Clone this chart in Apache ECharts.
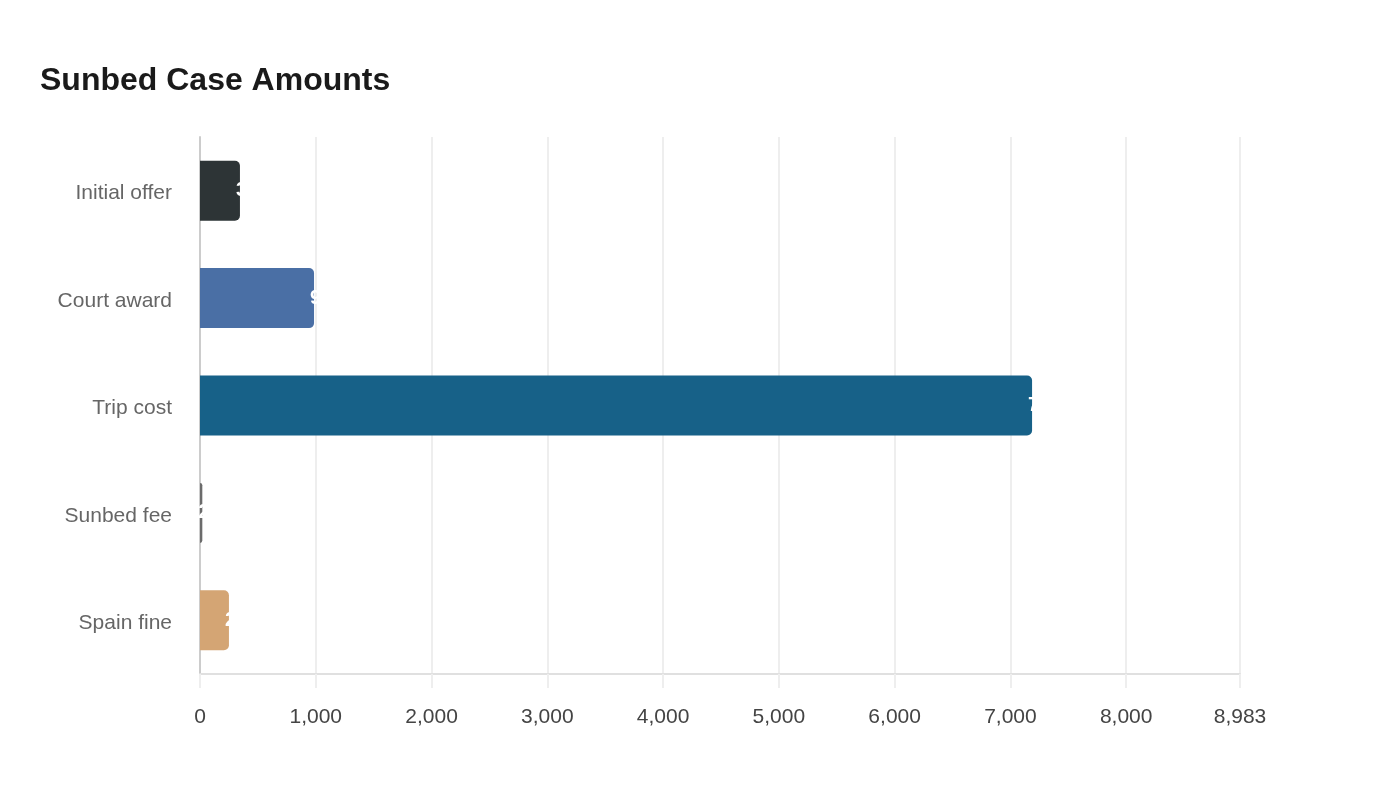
<!DOCTYPE html>
<html>
<head>
<meta charset="utf-8">
<title>Sunbed Case Amounts</title>
<script src="https://cdn.jsdelivr.net/npm/echarts@6/dist/echarts.min.js"></script>
<style>
  html, body { margin: 0; padding: 0; background: #fff; }
  #main { width: 1400px; height: 800px; }
</style>
</head>
<body>
<div id="main"></div>
<script>
// categories top to bottom
var categories = ['Initial offer', 'Court award', 'Trip cost', 'Sunbed fee', 'Spain fine'];
var amounts = [345, 985, 7187, 20, 250];
var barColors = ['#2d3436', '#4a6fa5', '#176188', '#6b6b6b', '#d4a574'];
var axisMax = 8983;

var myChart = echarts.init(document.getElementById('main'));

var option = {
    backgroundColor: '#ffffff',
    title: {
        text: 'Sunbed Case Amounts',
        left: 35,
        top: 60,
        textStyle: {
            fontFamily: 'Liberation Sans, Arial, sans-serif',
            fontSize: 32,
            fontWeight: 'bold',
            color: '#1a1a1a'
        }
    },
    grid: {
        left: 200,
        right: 160,
        top: 137,
        bottom: 126,
        containLabel: false
    },
    xAxis: {
        type: 'value',
        min: 0,
        max: axisMax,
        interval: 1000,
        axisLine: { show: true, lineStyle: { color: '#e0e0e0', width: 2 } },
        axisTick: { show: true, length: 14, lineStyle: { color: '#eeeeee', width: 2 } },
        splitLine: { show: true, lineStyle: { color: '#eeeeee', width: 2 } },
        axisLabel: {
            margin: 33,
            fontFamily: 'Liberation Sans, Arial, sans-serif',
            fontSize: 21,
            color: '#444444'
        }
    },
    yAxis: {
        type: 'category',
        data: categories,
        inverse: true,
        axisLine: { show: true, lineStyle: { color: '#cccccc', width: 2 } },
        axisTick: { show: false },
        splitLine: { show: false },
        axisLabel: {
            margin: 28,
            formatter: '{c|{value}}',
            rich: {
                c: {
                    padding: [6, 0, 0, 0],
                    fontFamily: 'Liberation Sans, Arial, sans-serif',
                    fontSize: 21,
                    color: '#666666'
                }
            }
        }
    },
    series: [{
        type: 'bar',
        barWidth: 60,
        data: amounts.map(function (v, i) {
            return { value: v, itemStyle: { color: barColors[i] } };
        }),
        itemStyle: { borderRadius: [0, 5, 5, 0] },
        label: {
            show: true,
            position: 'insideRight',
            align: 'left',
            distance: 4,
            color: '#ffffff',
            fontFamily: 'Liberation Sans, Arial, sans-serif',
            fontSize: 20,
            fontWeight: 'bold'
        }
    }]
};

myChart.setOption(option);
</script>
</body>
</html>
